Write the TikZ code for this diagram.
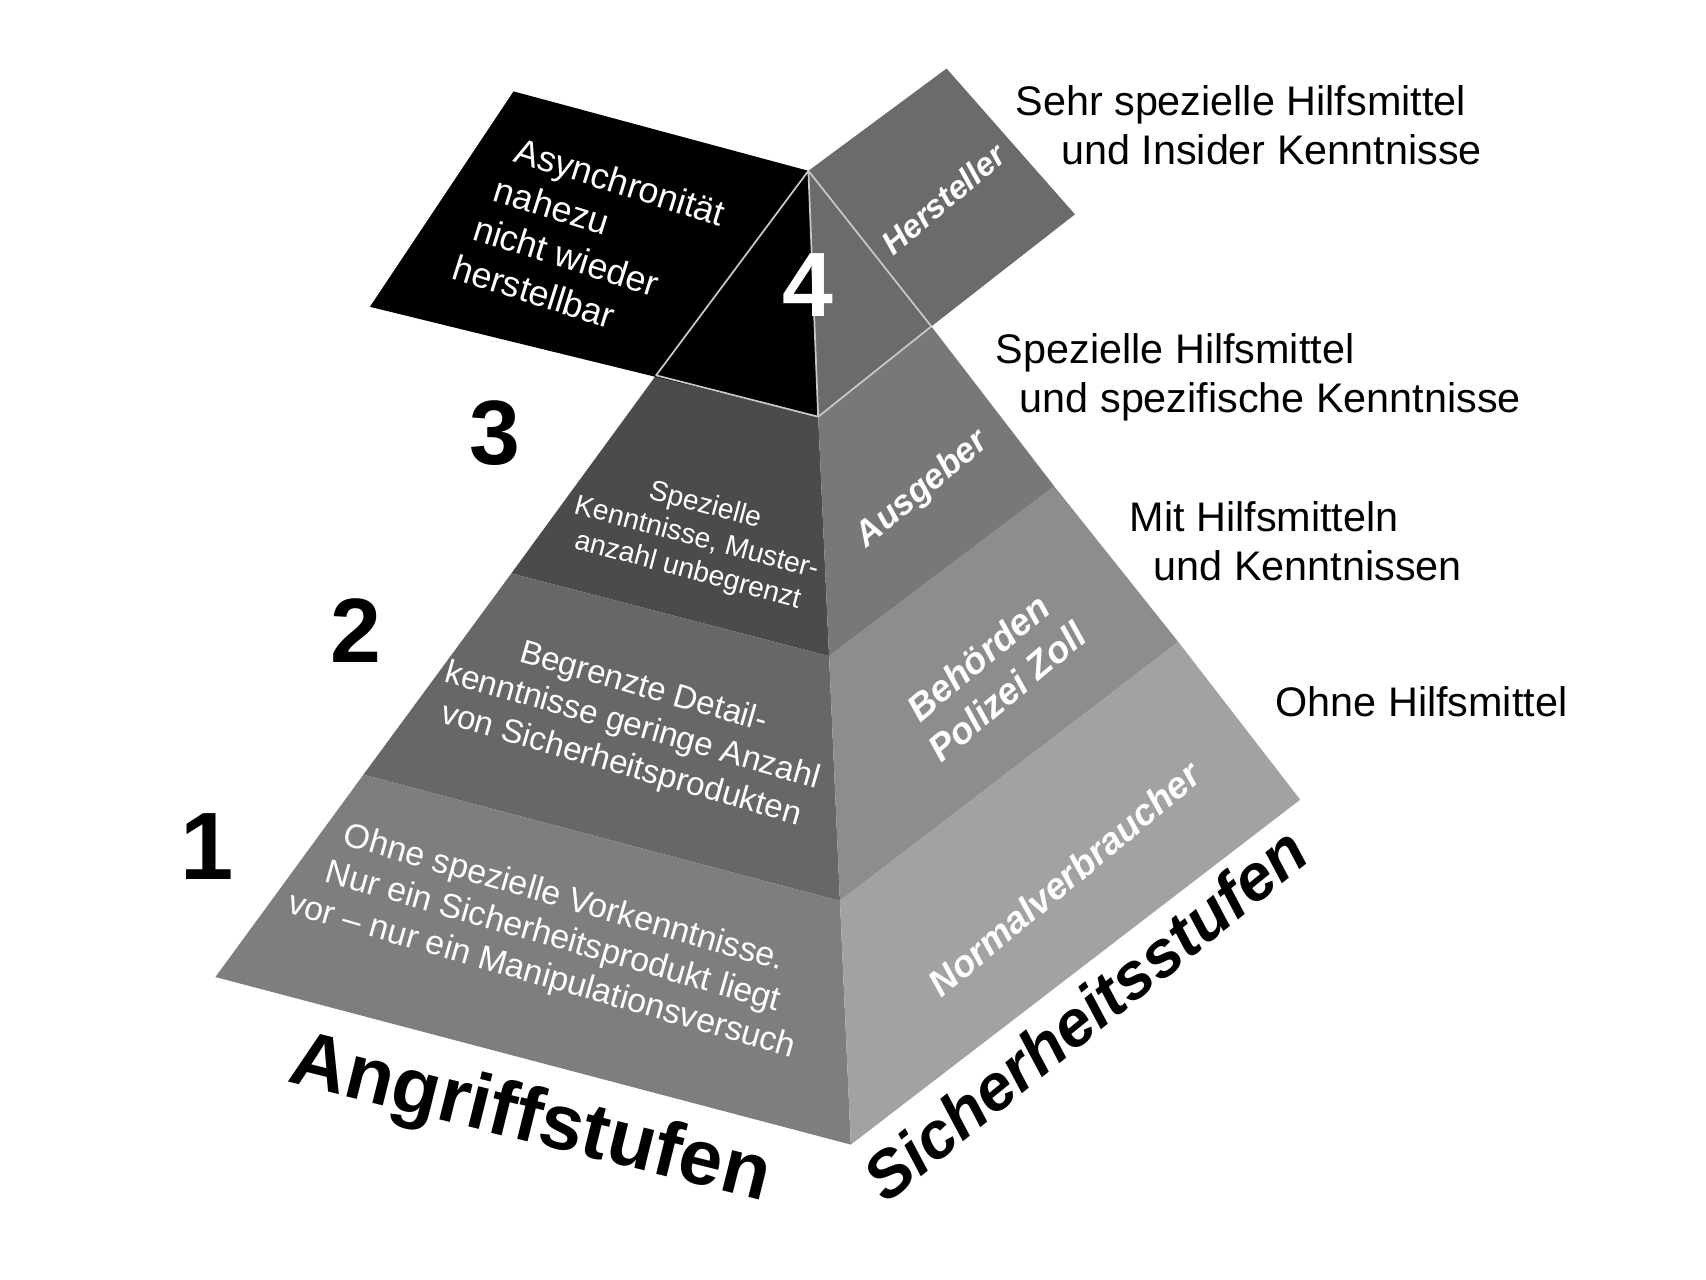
\documentclass[tikz,border=0pt]{standalone}
\usepackage{fontspec}
\setmainfont{Liberation Sans}
\definecolor{fthree}{HTML}{4B4B4B}
\definecolor{ftwo}{HTML}{676767}
\definecolor{fone}{HTML}{7E7E7E}
\definecolor{rfour}{HTML}{6B6B6B}
\definecolor{rthree}{HTML}{787878}
\definecolor{rtwo}{HTML}{8D8D8D}
\definecolor{rone}{HTML}{A2A2A2}
\definecolor{edgeline}{HTML}{C8C8C8}
\tikzset{
  facetext/.style={text=white, align=center, inner sep=0pt, rotate=-16},
  sidetext/.style={text=white, align=center, inner sep=0pt, rotate=40,
    font=\bfseries\itshape\fontsize{16.5}{19}\selectfont},
  levelnum/.style={inner sep=0pt, font=\bfseries\fontsize{42}{42}\selectfont},
  notetext/.style={anchor=west, align=left, inner sep=0pt,
    font=\fontsize{19}{22.5}\selectfont},
  lightedge/.style={draw=edgeline, line width=0.8pt, line join=round},
}
\begin{document}
\begin{tikzpicture}[x=0.5pt,y=-0.5pt]
\useasboundingbox (0,0) rectangle (1568,1176);
% pyramid points
\coordinate (A)  at (743,157);
\coordinate (C4) at (752,383);
\coordinate (C3) at (762,603);
\coordinate (C2) at (772,828);
\coordinate (C1) at (782,1052);
\coordinate (L4) at (603,345);
\coordinate (L3) at (470,527);
\coordinate (L2) at (334,712);
\coordinate (L1) at (198,898);
\coordinate (R4) at (856,300);
\coordinate (R3) at (969,447);
\coordinate (R2) at (1083,590);
\coordinate (R1) at (1195,735);
% exploded top panels
\coordinate (BK1) at (472,84);
\coordinate (BK2) at (340,282);
\coordinate (HS1) at (870,63);
\coordinate (HS2) at (988,197);

% front faces
\fill[fthree] (L4) -- (C4) -- (C3) -- (L3) -- cycle;
\fill[ftwo]   (L3) -- (C3) -- (C2) -- (L2) -- cycle;
\fill[fone]   (L2) -- (C2) -- (C1) -- (L1) -- cycle;
% right faces
\fill[rthree] (C4) -- (R4) -- (R3) -- (C3) -- cycle;
\fill[rtwo]   (C3) -- (R3) -- (R2) -- (C2) -- cycle;
\fill[rone]   (C2) -- (R2) -- (R1) -- (C1) -- cycle;
% top: black panel and grey panel
\fill[black] (BK1) -- (A) -- (C4) -- (BK2) -- cycle;
\fill[rfour] (A) -- (HS1) -- (HS2) -- (R4) -- (C4) -- cycle;
% light edges of the top piece
\draw[lightedge] (A) -- (L4) -- (C4) -- (A);
\draw[lightedge] (A) -- (R4) -- (C4);

% texts on the black panel and top
\node[anchor=north west, align=left, text=white, inner sep=0pt, rotate=-17.5,
  font=\fontsize{16.5}{20}\selectfont] (async) at (457,118)
  {\hspace*{11.1pt}Asynchronität\\\hspace*{7.4pt}nahezu\\\hspace*{3.7pt}nicht wieder\\herstellbar};
\node[levelnum, text=white] (n4) at (743,262) {4};
\node[levelnum] (n3) at (455,398) {3};
\node[levelnum] (n2) at (327,580) {2};
\node[levelnum, font=\bfseries\fontsize{44}{44}\selectfont] (n1) at (190,778) {1};

% front face texts
\node[facetext, rotate=1, font=\fontsize{13}{15.5}\selectfont] (t3) at (640,495)
  {Spezielle\\Kenntnisse, Muster-\\anzahl unbegrenzt};
\node[facetext, font=\fontsize{15.2}{18.5}\selectfont] (t2) at (581,668)
  {Begrenzte Detail-\\kenntnisse geringe Anzahl\\von Sicherheitsprodukten};
\node[facetext, font=\fontsize{15.6}{18.5}\selectfont] (t1) at (508,862)
  {Ohne spezielle Vorkenntnisse.\\Nur ein Sicherheitsprodukt liegt\\vor – nur ein Manipulationsversuch};

% right face texts
\node[sidetext, font=\bfseries\itshape\fontsize{15}{18}\selectfont] (s4) at (867,183) {Hersteller};
\node[sidetext, font=\bfseries\itshape\fontsize{16}{18}\selectfont] (s3) at (848,450) {Ausgeber};
\node[sidetext, font=\bfseries\itshape\fontsize{17}{20.5}\selectfont] (s2) at (912,620) {Behörden\\Polizei Zoll};
\node[sidetext, font=\bfseries\itshape\fontsize{17}{20}\selectfont] (s1) at (978,808) {Normalverbraucher};

% axis titles
\node[inner sep=0pt, rotate=-14, font=\bfseries\fontsize{36}{36}\selectfont] (angr) at (487,1031) {Angriffstufen};
\node[inner sep=0pt, rotate=39, font=\bfseries\itshape\fontsize{30}{30}\selectfont] (sich) at (997,932) {Sicherheitsstufen};

% right-hand notes
\node[notetext] (h4) at (933,115) {Sehr spezielle Hilfsmittel\\\hspace*{21pt}und Insider Kenntnisse};
\node[notetext] (h3) at (915,346.5) {Spezielle Hilfsmittel\\\hspace*{11pt}und spezifische Kenntnisse};
\node[notetext] (h2) at (1038,497.5) {Mit Hilfsmitteln\\\hspace*{11pt}und Kenntnissen};
\node[notetext] (h1) at (1172,645) {Ohne Hilfsmittel};
\end{tikzpicture}
\end{document}
